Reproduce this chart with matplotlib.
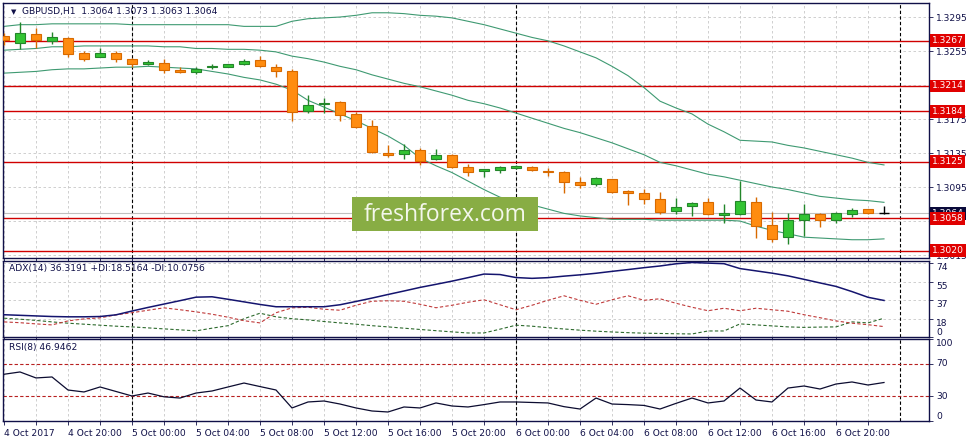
import matplotlib
matplotlib.use("Agg")
import matplotlib.pyplot as plt
import matplotlib.transforms as mtransforms
from matplotlib.patches import Rectangle
import numpy as np

#
# GBPUSD H1 with Bollinger bands, ADX(14) and RSI(8)
#

opens = [1.3273, 1.3264, 1.3275, 1.3267, 1.3270, 1.3253, 1.3248, 1.3253, 1.3246, 1.3240,
         1.3241, 1.3233, 1.3230, 1.3236, 1.3236, 1.3240, 1.3244, 1.3236, 1.3231, 1.3184,
         1.3193, 1.3195, 1.3181, 1.3167, 1.3135, 1.3134, 1.3139, 1.3128, 1.3133, 1.3119,
         1.3114, 1.3115, 1.3117, 1.3119, 1.3114, 1.3113, 1.3101, 1.3099, 1.3104, 1.3090,
         1.3088, 1.3081, 1.3067, 1.3073, 1.3077, 1.3062, 1.3063, 1.3077, 1.3050, 1.3036,
         1.3056, 1.3063, 1.3056, 1.3063, 1.3069, 1.3064]
highs = [1.3276, 1.3289, 1.3282, 1.3277, 1.3271, 1.3255, 1.3259, 1.3255, 1.3247, 1.3244,
         1.3246, 1.3236, 1.3236, 1.3240, 1.3240, 1.3246, 1.3249, 1.3240, 1.3234, 1.3203,
         1.3200, 1.3196, 1.3183, 1.3174, 1.3144, 1.3146, 1.3141, 1.3140, 1.3134, 1.3122,
         1.3116, 1.3120, 1.3121, 1.3120, 1.3117, 1.3114, 1.3107, 1.3107, 1.3104, 1.3091,
         1.3093, 1.3089, 1.3082, 1.3077, 1.3082, 1.3075, 1.3102, 1.3083, 1.3066, 1.3065,
         1.3075, 1.3064, 1.3066, 1.3070, 1.3069, 1.3073]
lows = [1.3262, 1.3257, 1.3259, 1.3263, 1.3248, 1.3243, 1.3248, 1.3242, 1.3236, 1.3239,
        1.3229, 1.3229, 1.3228, 1.3234, 1.3236, 1.3239, 1.3236, 1.3224, 1.3173, 1.3182,
        1.3182, 1.3173, 1.3164, 1.3135, 1.3130, 1.3128, 1.3121, 1.3127, 1.3117, 1.3108,
        1.3107, 1.3112, 1.3116, 1.3114, 1.3108, 1.3088, 1.3094, 1.3096, 1.3088, 1.3074,
        1.3075, 1.3063, 1.3063, 1.3061, 1.3062, 1.3053, 1.3062, 1.3035, 1.3030, 1.3028,
        1.3037, 1.3048, 1.3053, 1.3060, 1.3063, 1.3063]
closes = [1.3268, 1.3276, 1.3268, 1.3271, 1.3251, 1.3246, 1.3253, 1.3246, 1.3240, 1.3242,
          1.3233, 1.3230, 1.3234, 1.3237, 1.3240, 1.3243, 1.3237, 1.3231, 1.3183, 1.3192,
          1.3194, 1.3180, 1.3166, 1.3136, 1.3133, 1.3139, 1.3126, 1.3133, 1.3119, 1.3113,
          1.3116, 1.3119, 1.3120, 1.3115, 1.3113, 1.3101, 1.3097, 1.3106, 1.3089, 1.3088,
          1.3081, 1.3066, 1.3072, 1.3076, 1.3063, 1.3065, 1.3079, 1.3049, 1.3034, 1.3056,
          1.3063, 1.3056, 1.3064, 1.3068, 1.3064, 1.3064]

bb_upper = [1.3284, 1.3286, 1.3286, 1.3287, 1.3287, 1.3287, 1.3287, 1.3287, 1.3286, 1.3286,
            1.3286, 1.3286, 1.3286, 1.3286, 1.3286, 1.3284, 1.3284, 1.3284, 1.3290, 1.3293,
            1.3294, 1.3295, 1.3297, 1.3300, 1.3300, 1.3299, 1.3297, 1.3296, 1.3294, 1.3290,
            1.3286, 1.3281, 1.3276, 1.3271, 1.3267, 1.3261, 1.3254, 1.3247, 1.3237, 1.3226,
            1.3212, 1.3196, 1.3188, 1.3181, 1.3169, 1.3160, 1.3150, 1.3149, 1.3148, 1.3144,
            1.3141, 1.3137, 1.3133, 1.3129, 1.3124, 1.3121]
bb_middle = [1.3256, 1.3257, 1.3258, 1.3260, 1.3260, 1.3261, 1.3261, 1.3261, 1.3261, 1.3261,
             1.3260, 1.3260, 1.3258, 1.3258, 1.3257, 1.3257, 1.3256, 1.3254, 1.3249, 1.3246,
             1.3242, 1.3237, 1.3233, 1.3227, 1.3222, 1.3217, 1.3213, 1.3208, 1.3203, 1.3197,
             1.3193, 1.3188, 1.3182, 1.3176, 1.3170, 1.3164, 1.3159, 1.3153, 1.3147, 1.3140,
             1.3133, 1.3124, 1.3120, 1.3115, 1.3110, 1.3107, 1.3103, 1.3099, 1.3095, 1.3092,
             1.3088, 1.3084, 1.3082, 1.3080, 1.3079, 1.3077]
bb_lower = [1.3229, 1.3230, 1.3231, 1.3233, 1.3234, 1.3234, 1.3235, 1.3236, 1.3236, 1.3237,
            1.3236, 1.3235, 1.3234, 1.3231, 1.3228, 1.3224, 1.3221, 1.3216, 1.3209, 1.3197,
            1.3189, 1.3181, 1.3173, 1.3164, 1.3155, 1.3144, 1.3129, 1.3120, 1.3112, 1.3102,
            1.3092, 1.3083, 1.3079, 1.3074, 1.3069, 1.3064, 1.3061, 1.3059, 1.3057, 1.3057,
            1.3057, 1.3056, 1.3056, 1.3056, 1.3056, 1.3056, 1.3055, 1.3049, 1.3044, 1.3040,
            1.3036, 1.3035, 1.3034, 1.3033, 1.3033, 1.3034]

adx = [22.0, 21.4, 20.8, 20.2, 19.9, 19.9, 20.2, 21.9, 25.7, 29.3,
       32.7, 36.1, 39.6, 40.0, 37.5, 34.9, 32.3, 30.0, 30.0, 30.0,
       30.0, 32.0, 35.3, 38.7, 42.3, 45.8, 49.4, 52.5, 55.7, 59.2,
       62.8, 62.3, 59.3, 58.5, 59.2, 60.7, 62.0, 63.6, 65.5, 67.3,
       69.2, 70.9, 73.1, 74.4, 73.8, 73.2, 68.3, 66.0, 63.7, 61.0,
       57.5, 53.9, 50.4, 45.2, 39.5, 36.3191]
plus_di = [18.5, 17.5, 16.3, 14.8, 13.5, 12.5, 11.5, 10.5, 9.8, 8.8,
           7.8, 6.8, 5.8, 8.5, 11.0, 18.0, 23.5, 19.9, 18.0, 16.8,
           15.2, 13.8, 12.5, 11.0, 9.8, 8.5, 7.2, 6.0, 4.8, 3.7,
           3.7, 7.5, 11.5, 10.5, 9.0, 7.7, 6.5, 5.5, 4.7, 4.0,
           3.5, 3.2, 2.9, 2.7, 5.7, 5.7, 12.8, 11.8, 10.8, 9.8,
           9.3, 9.6, 9.8, 14.8, 13.8, 18.5164]
minus_di = [14.8, 14.0, 12.8, 11.8, 15.8, 17.8, 18.8, 21.9, 24.0, 26.5,
            28.9, 27.0, 24.9, 22.5, 19.5, 16.0, 13.8, 24.0, 28.9, 29.5,
            27.5, 26.5, 31.5, 35.5, 36.0, 35.5, 32.5, 29.0, 31.5, 34.5,
            37.0, 32.0, 27.0, 31.5, 36.5, 41.0, 36.5, 32.5, 37.0, 41.0,
            36.5, 38.0, 33.5, 29.5, 26.0, 28.5, 26.0, 28.5, 27.0, 25.5,
            22.0, 19.0, 15.8, 13.5, 12.0, 10.0756]
rsi = [57.0, 59.8, 52.5, 53.7, 37.8, 35.4, 41.5, 36.0, 30.5, 34.1,
       29.5, 28.0, 34.1, 36.6, 41.5, 46.3, 42.0, 37.8, 15.9, 23.2,
       24.4, 20.7, 15.9, 12.2, 11.0, 17.1, 15.9, 22.0, 18.3, 17.1,
       20.0, 23.2, 23.2, 22.6, 22.0, 17.5, 14.6, 28.0, 20.7, 20.0,
       19.0, 14.6, 21.5, 28.0, 22.0, 24.4, 40.2, 25.6, 23.2, 40.2,
       42.7, 39.0, 45.1, 47.6, 43.9, 46.9462]

levels = [1.3267, 1.3214, 1.3184, 1.3125, 1.3058, 1.3020]
price_ticks = [1.3015, 1.3055, 1.3095, 1.3135, 1.3175, 1.3215, 1.3255, 1.3295]
# 1.3055 and 1.3215 sit fully under the level boxes in the terminal
hidden_ticks = [1.3055, 1.3215]
time_labels = ["4 Oct 2017", "4 Oct 20:00", "5 Oct 00:00", "5 Oct 04:00", "5 Oct 08:00",
               "5 Oct 12:00", "5 Oct 16:00", "5 Oct 20:00", "6 Oct 00:00", "6 Oct 04:00",
               "6 Oct 08:00", "6 Oct 12:00", "6 Oct 16:00", "6 Oct 20:00"]
day_breaks = [8, 32, 56]

FONT = 6.6
NAVY = "#101048"
plt.rcParams["font.family"] = ["DejaVu Sans"]

n = len(closes)
x = np.arange(n)
W, H = 969, 441
fig = plt.figure(figsize=(W / 100, H / 100), dpi=100)


def box(left, top, right, bottom):
    return [left / W, 1 - bottom / H, (right - left) / W, (bottom - top) / H]


ax = fig.add_axes(box(3, 3, 929, 258))
ax_adx = fig.add_axes(box(3, 260.5, 929, 337), sharex=ax)
ax_rsi = fig.add_axes(box(3, 339, 929, 421), sharex=ax)

for a in (ax, ax_adx, ax_rsi):
    a.set_xlim(-0.0625, 57.8125)
    for s in a.spines.values():
        s.set_color(NAVY)
        s.set_linewidth(1.0)
    a.yaxis.tick_right()
    a.tick_params(axis="y", which="both", length=3, width=0.6, color=NAVY,
                  labelsize=FONT, labelcolor=NAVY, pad=2)
    a.tick_params(axis="x", which="both", length=3, width=0.6, color=NAVY,
                  labelsize=FONT, labelcolor=NAVY, pad=3, direction="out")
    a.set_xticks(range(0, 56, 4))
    a.set_xticks(range(2, 57, 4), minor=True)
    a.grid(True, which="both", axis="x", color="#c8c8c8", lw=0.6, ls=(0, (3, 3)))
    for d in day_breaks:
        a.axvline(d, color="black", lw=0.8, ls=(0, (3, 2)), zorder=2)
    if a is not ax_rsi:
        a.tick_params(axis="x", labelbottom=False)

# ---- main price panel
ax.set_ylim(1.30115, 1.33115)
ax.set_yticks(price_ticks)
ax.set_yticklabels(["" if p in hidden_ticks else f"{p:.4f}" for p in price_ticks])
ax.grid(True, axis="y", color="#c8c8c8", lw=0.6, ls=(0, (3, 3)))

for lv in levels:
    ax.axhline(lv, color="#d00000", lw=1.0, zorder=2)
ax.axhline(closes[-1], color="#c0c0c0", lw=0.8, zorder=2)

for band in (bb_upper, bb_middle, bb_lower):
    ax.plot(x, band, color="#3f9a72", lw=0.8, zorder=2.5)

for i in range(n):
    o, h, l, c = opens[i], highs[i], lows[i], closes[i]
    if c > o:
        fill, edge = "#33c433", "#23862a"
    elif c < o:
        fill, edge = "#ff8c10", "#d86a00"
    else:
        fill, edge = "black", "black"
    ax.vlines(i, l, h, color=edge, lw=1.0, zorder=3)
    if c == o:
        ax.hlines(c, i - 0.3, i + 0.3, color=edge, lw=1.0, zorder=4)
    else:
        ax.bar(i, c - o, bottom=o, width=0.62, color=fill, edgecolor=edge,
               lw=0.8, zorder=4)

trans = mtransforms.blended_transform_factory(ax.transAxes, ax.transData)
ax.text(1.003, closes[-1], f"{closes[-1]:.4f}", transform=trans, color="white",
        fontsize=FONT, va="center", ha="left", zorder=9, clip_on=False,
        bbox=dict(boxstyle="square,pad=0.2", fc="#0a0a3a", ec="none"))
for lv in levels:
    ax.text(1.003, lv, f"{lv:.4f}", transform=trans, color="white",
            fontsize=FONT, va="center", ha="left", zorder=10, clip_on=False,
            bbox=dict(boxstyle="square,pad=0.2", fc="#e00000", ec="none"))

ax.text(0.009, 0.965, "\u25bc", transform=ax.transAxes, fontsize=5, color=NAVY,
        va="center", ha="left")
ax.text(0.02, 0.965,
        f"GBPUSD,H1  {opens[-1]:.4f} {highs[-1]:.4f} {lows[-1]:.4f} {closes[-1]:.4f}",
        transform=ax.transAxes, fontsize=FONT, color=NAVY, va="center", ha="left")

# ---- ADX panel
ax_adx.set_ylim(-0.35, 76.4)
ax_adx.set_yticks([74, 55, 37, 18, 0])
ax_adx.set_yticklabels(["74", "55", "37", "18", "0"])
for lbl in ax_adx.get_yticklabels():
    lbl.set_va("bottom" if lbl.get_text() == "0" else "top")
ax_adx.grid(True, axis="y", color="#c8c8c8", lw=0.6, ls=(0, (3, 3)))
ax_adx.plot(x, adx, color="#14146e", lw=1.1, zorder=4)
ax_adx.plot(x, plus_di, color="#2d6a2d", lw=0.8, ls=(0, (3, 2)), zorder=3)
ax_adx.plot(x, minus_di, color="#c03a3a", lw=0.8, ls=(0, (3, 2)), zorder=3)
ax_adx.text(0.006, 0.9, f"ADX(14) {adx[-1]:.4f} +DI:{plus_di[-1]:.4f} -DI:{minus_di[-1]:.4f}",
            transform=ax_adx.transAxes, fontsize=FONT, color=NAVY, va="center", ha="left")

# ---- RSI panel
ax_rsi.set_ylim(0, 100)
ax_rsi.set_yticks([100, 70, 30, 0])
ax_rsi.set_yticklabels(["100", "70", "30", "0"])
for lbl in ax_rsi.get_yticklabels():
    t = lbl.get_text()
    lbl.set_va("top" if t == "100" else "bottom" if t == "0" else "center")
for lv in (70, 30):
    ax_rsi.axhline(lv, color="#b82020", lw=0.8, ls=(0, (3, 2)), zorder=2)
ax_rsi.plot(x, rsi, color="#0c0c30", lw=0.9, zorder=4)
ax_rsi.text(0.006, 0.9, f"RSI(8) {rsi[-1]:.4f}", transform=ax_rsi.transAxes,
            fontsize=FONT, color=NAVY, va="center", ha="left")
ax_rsi.set_xticklabels(time_labels)
for lbl in ax_rsi.get_xticklabels():
    lbl.set_ha("left")

# ---- watermark
fig.patches.append(Rectangle((352 / W, 1 - 231 / H), 186 / W, 34 / H,
                             transform=fig.transFigure, fc="#88ad44", ec="none",
                             zorder=20))
fig.text(445 / W, 1 - 215 / H, "freshforex.com", fontsize=16.5, family="Open Sans",
         color="#f4f7ec", ha="center", va="center", zorder=21)

fig.savefig("out.png", dpi=100)
